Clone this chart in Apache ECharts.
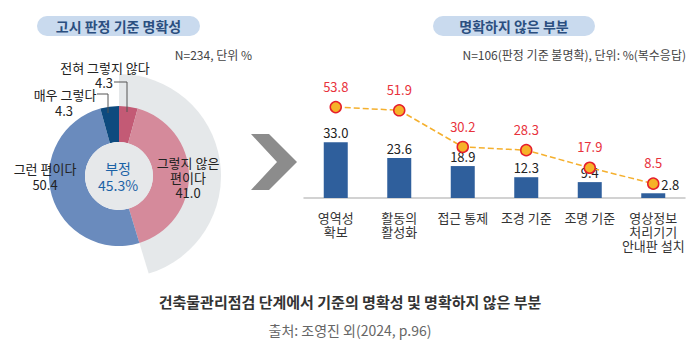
<!DOCTYPE html>
<html>
<head>
<meta charset="utf-8">
<script src="https://cdn.jsdelivr.net/npm/echarts@6/dist/echarts.min.js"></script>
<style>
  html, body { margin: 0; padding: 0; background: #fff; }
  #chart { width: 700px; height: 350px; }
</style>
</head>
<body>
<div id="chart"></div>
<script>
// 왼쪽: 고시 판정 기준 명확성
const pieNames = ["전혀 그렇지 않다", "그렇지 않은 편이다", "그런 편이다", "매우 그렇다"];
const pieValues = [4.3, 41.0, 50.4, 4.3];
const pieColors = ["#c35a75", "#d58a9b", "#6a8bbd", "#0d4a7e"];
const negativeShare = 45.3;

// 오른쪽: 명확하지 않은 부분
const categories = ["영역성\n확보", "활동의\n활성화", "접근 통제", "조경 기준", "조명 기준", "영상정보\n처리기기\n안내판 설치"];
const barValues = [33.0, 23.6, 18.9, 12.3, 9.4, 2.8];
const lineValues = [53.8, 51.9, 30.2, 28.3, 17.9, 8.5];

const font = '"Noto Sans CJK KR", "Noto Sans", sans-serif';
const cx = 119, cy = 176;

const chart = echarts.init(document.getElementById("chart"), null, { renderer: "svg" });

const txt = (x, y, text, opt = {}) => ({
  type: "text", x: x, y: y, z: 100, silent: true,
  style: Object.assign({
    text: text, fontFamily: font, fontSize: 13, fill: "#222",
    align: "center", verticalAlign: "middle"
  }, opt)
});

const option = {
  animation: false,
  textStyle: { fontFamily: font },
  grid: { left: 304, right: 15, top: 96.6, bottom: 152 },
  xAxis: {
    type: "category",
    data: categories,
    axisLine: { lineStyle: { color: "#c4c4c4", width: 1.5 } },
    axisTick: { show: false },
    axisLabel: { color: "#333", fontSize: 13, lineHeight: 14, margin: 12, interval: 0 }
  },
  yAxis: { type: "value", min: 0, max: 60, show: false, splitLine: { show: false } },
  series: [
    // 부정 영역 배경
    {
      type: "pie", silent: true, z: 1,
      center: [cx, cy], radius: [0, 102], startAngle: 90,
      label: { show: false }, labelLine: { show: false },
      data: [
        { value: negativeShare, itemStyle: { color: "#e5e8ea" } },
        { value: 100 - negativeShare, itemStyle: { color: "rgba(0,0,0,0)" } }
      ]
    },
    {
      type: "pie", silent: true, z: 2,
      center: [cx, cy], radius: [34, 70], startAngle: 90,
      label: { show: false }, labelLine: { show: false },
      data: pieNames.map((n, i) => ({ name: n, value: pieValues[i], itemStyle: { color: pieColors[i] } }))
    },
    {
      type: "pie", silent: true, z: 3,
      center: [cx, cy], radius: [0, 34],
      label: { show: false }, labelLine: { show: false },
      data: [{ name: "부정", value: 1, itemStyle: { color: "#e6e8ea" } }]
    },
    {
      type: "bar",
      data: barValues.map((v, i) => i === barValues.length - 1
        ? { value: v, label: { offset: [17, 1] } }
        : v),
      barWidth: 24,
      itemStyle: { color: "#2f5f9c" },
      label: { show: true, position: "top", distance: 3, color: "#222", fontSize: 13,
               formatter: p => p.value.toFixed(1) }
    },
    {
      type: "line",
      data: lineValues,
      symbol: "circle",
      symbolSize: 11,
      z: 5,
      lineStyle: { type: "dashed", color: "#f5b02e", width: 1.5 },
      itemStyle: { color: "#f6b228", borderColor: "#e61e2b", borderWidth: 1.5 },
      label: { show: true, position: "top", distance: 8, color: "#e8323c", fontSize: 13,
               formatter: p => p.value.toFixed(1) }
    }
  ],
  graphic: [
    { type: "rect", z: 100, shape: { x: 37, y: 16, width: 163, height: 20, r: 10 }, style: { fill: "#c9daee" }, silent: true },
    txt(118.5, 26, "고시 판정 기준 명확성", { fontSize: 14, fontWeight: "bold", fill: "#2b4f80" }),
    { type: "rect", z: 100, shape: { x: 433, y: 16, width: 162, height: 20, r: 10 }, style: { fill: "#c9daee" }, silent: true },
    txt(514, 26, "명확하지 않은 부분", { fontSize: 14, fontWeight: "bold", fill: "#2b4f80" }),
    txt(252, 54, "N=234, 단위 %", { fontSize: 12, fill: "#444", align: "right" }),
    txt(686, 54, "N=106(판정 기준 불명확), 단위: %(복수응답)", { fontSize: 12, fill: "#444", align: "right" }),

    // 도넛 라벨
    txt(105, 67, pieNames[0], { fontSize: 13 }),
    txt(104, 82, pieValues[0].toFixed(1), { fontSize: 13 }),
    { type: "polyline", z: 100, silent: true, shape: { points: [[114, 82], [127, 82], [127, 112]] },
      style: { stroke: "#555", lineWidth: 1, fill: null } },
    txt(65, 94, pieNames[3], { fontSize: 13 }),
    txt(64, 110, pieValues[3].toFixed(1), { fontSize: 13 }),
    { type: "polyline", z: 100, silent: true, shape: { points: [[97, 94], [108, 94], [108, 113]] },
      style: { stroke: "#555", lineWidth: 1, fill: null } },
    txt(188, 162, "그렇지 않은", { fontSize: 13 }),
    txt(188, 177, "편이다", { fontSize: 13 }),
    txt(188, 192, pieValues[1].toFixed(1), { fontSize: 13 }),
    txt(45, 168, pieNames[2], { fontSize: 13 }),
    txt(45, 184, pieValues[2].toFixed(1), { fontSize: 13 }),
    txt(118, 168, "부정", { fontSize: 14, fill: "#1b62a6" }),
    txt(118, 185, negativeShare.toFixed(1) + "%", { fontSize: 14, fill: "#1b62a6" }),

    // 화살표
    { type: "polygon", z: 100, silent: true,
      shape: { points: [[251, 134], [269, 134], [297, 162], [269, 190], [251, 190], [277, 162]] },
      style: { fill: "#8c8c8c" } },

    // 하단 제목
    txt(350, 301, "건축물관리점검 단계에서 기준의 명확성 및 명확하지 않은 부분", { fontSize: 15, fontWeight: "bold", fill: "#333" }),
    txt(350, 330, "출처: 조영진 외(2024, p.96)", { fontSize: 14, fill: "#666" })
  ]
};

chart.setOption(option);
</script>
</body>
</html>
